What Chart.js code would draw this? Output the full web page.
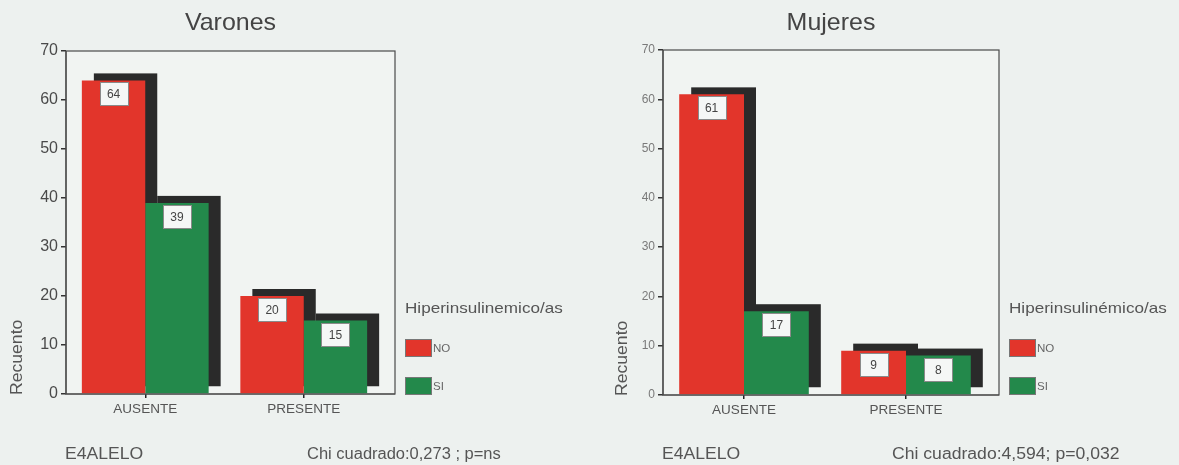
<!DOCTYPE html>
<html>
<head>
<meta charset="utf-8">
<script src="https://cdn.jsdelivr.net/npm/chart.js@4/dist/chart.umd.min.js"></script>
<style>
  html, body { margin: 0; padding: 0; background: #edf1ef; }
  #wrap { position: relative; width: 1179px; height: 465px; overflow: hidden; }
  canvas { position: absolute; top: 0; }
</style>
</head>
<body>
<div id="wrap">
  <canvas id="varones" width="590" height="465" style="left:0;width:590px;height:465px"></canvas>
  <canvas id="mujeres" width="589" height="465" style="left:590px;width:589px;height:465px"></canvas>
</div>
<script>
// Counts by E4 allele status, split by hyperinsulinaemia (NO / SI)
const categories = ['AUSENTE', 'PRESENTE'];
const seriesLabels = ['NO', 'SI'];
const varonesNo = [64, 20];
const varonesSi = [39, 15];
const mujeresNo = [61, 9];
const mujeresSi = [17, 8];
const yTickValues = [0, 10, 20, 30, 40, 50, 60, 70];

const RED = '#e2352b';
const GREEN = '#23894b';
const SHADOW = '#2a2a2a';
const FONT = '"Liberation Sans", Arial, sans-serif';

// draws text slightly widened horizontally, as in the printed original
function wideText(ctx, text, x, y, sx, align) {
  ctx.save();
  ctx.translate(x, y);
  ctx.scale(sx, 1);
  ctx.textAlign = align;
  ctx.fillText(text, 0, 0);
  ctx.restore();
}

// Offset block shadow behind each bar, frame around the plot, value boxes and annotations
const decorPlugin = {
  id: 'decor',
  beforeDatasetsDraw(chart) {
    const o = chart.options.plugins.decor;
    const ctx = chart.ctx;
    const a = chart.chartArea;
    ctx.save();
    // plot frame (extends to the right to hold the shadows)
    ctx.fillStyle = '#f1f4f2';
    ctx.fillRect(a.left, a.top, a.right + o.frameExtra - a.left, a.bottom - a.top);
    ctx.strokeStyle = '#4a4a4a';
    ctx.lineWidth = 1.2;
    ctx.strokeRect(a.left, a.top, a.right + o.frameExtra - a.left, a.bottom - a.top);
    // shadows
    ctx.fillStyle = SHADOW;
    chart.data.datasets.forEach((ds, i) => {
      chart.getDatasetMeta(i).data.forEach(bar => {
        const p = bar.getProps(['x', 'y', 'base', 'width'], true);
        ctx.fillRect(p.x - p.width / 2 + o.dx, p.y + o.dy, p.width, p.base - p.y);
      });
    });
    ctx.restore();
  },
  afterDatasetsDraw(chart) {
    const o = chart.options.plugins.decor;
    const ctx = chart.ctx;
    const a = chart.chartArea;
    ctx.save();
    // value boxes inside the top of each bar
    chart.data.datasets.forEach((ds, i) => {
      chart.getDatasetMeta(i).data.forEach((bar, j) => {
        const p = bar.getProps(['x', 'y'], true);
        const w = 28, h = 23;
        const bx = Math.round(p.x - w / 2) + 0.5, by = Math.round(p.y + 2) + 0.5;
        ctx.fillStyle = '#f5f7f6';
        ctx.fillRect(bx, by, w, h);
        ctx.strokeStyle = '#8a8a8a';
        ctx.lineWidth = 1;
        ctx.strokeRect(bx, by, w, h);
        ctx.fillStyle = '#444';
        ctx.font = '12px ' + FONT;
        ctx.textAlign = 'center';
        ctx.textBaseline = 'middle';
        ctx.fillText(String(ds.data[j]), p.x, by + h / 2 + 1);
      });
    });
    // left and bottom axis lines over the bars' edges
    ctx.strokeStyle = '#4a4a4a';
    ctx.lineWidth = 1.2;
    ctx.beginPath();
    ctx.moveTo(a.left, a.top);
    ctx.lineTo(a.left, a.bottom);
    ctx.lineTo(a.right + o.frameExtra, a.bottom);
    ctx.stroke();

    const frameCx = (a.left + a.right + o.frameExtra) / 2;
    ctx.fillStyle = '#444';
    ctx.textBaseline = 'middle';
    // title
    ctx.font = '24px ' + FONT;
    wideText(ctx, o.title, frameCx, 23, 1.04, 'center');
    // y axis title
    ctx.save();
    ctx.translate(o.yTitleX, a.bottom + 1);
    ctx.rotate(-Math.PI / 2);
    ctx.font = '16px ' + FONT;
    ctx.textBaseline = 'alphabetic';
    ctx.fillStyle = '#555';
    wideText(ctx, 'Recuento', 0, 0, 1.1, 'left');
    ctx.restore();
    // legend
    const lx = a.right + o.frameExtra + o.legendGap;
    ctx.font = '15px ' + FONT;
    ctx.fillStyle = '#555';
    wideText(ctx, o.legendTitle, lx, 309, 1.14, 'left');
    const rows = [348, 386];
    chart.data.datasets.forEach((ds, i) => {
      ctx.fillStyle = ds.backgroundColor;
      ctx.fillRect(lx, rows[i] - 9, 27, 18);
      ctx.strokeStyle = '#777';
      ctx.lineWidth = 1;
      ctx.strokeRect(lx + 0.5, rows[i] - 8.5, 26, 17);
      ctx.fillStyle = '#666';
      ctx.font = '11px ' + FONT;
      wideText(ctx, ds.label, lx + 28, rows[i] + 1, 1.05, 'left');
    });
    // footer annotations
    ctx.font = '16px ' + FONT;
    ctx.fillStyle = '#555';
    wideText(ctx, 'E4ALELO', a.left - 1, 455, 1.1, 'left');
    wideText(ctx, o.stat, o.statX, 455, o.statStretch, 'left');
    ctx.restore();
  }
};

function makeChart(id, noData, siData, g) {
  return new Chart(document.getElementById(id), {
    type: 'bar',
    data: {
      labels: categories,
      datasets: [
        { label: seriesLabels[0], data: noData, backgroundColor: RED },
        { label: seriesLabels[1], data: siData, backgroundColor: GREEN }
      ]
    },
    options: {
      responsive: false,
      animation: false,
      layout: { padding: { left: 0, right: g.padRight, top: g.top, bottom: 465 - g.bottom - 24 } },
      datasets: { bar: { barPercentage: 1.0, categoryPercentage: 0.8, borderWidth: 0 } },
      scales: {
        x: {
          type: 'category',
          offset: true,
          afterFit: s => { s.height = 24; },
          border: { display: false },
          grid: { display: true, offset: false, drawOnChartArea: false, drawTicks: true, tickLength: 4, color: '#222', lineWidth: 1.5 },
          ticks: { font: { family: FONT, size: 13.5 }, color: '#555', padding: 3, maxRotation: 0 }
        },
        y: {
          min: 0,
          max: yTickValues[yTickValues.length - 1],
          afterFit: s => { s.width = g.left; },
          afterBuildTicks: s => { s.ticks = yTickValues.map(v => ({ value: v })); },
          border: { display: false },
          grid: { display: true, drawOnChartArea: false, drawTicks: true, tickLength: 5, color: '#333', lineWidth: 1.5 },
          ticks: { font: { family: FONT, size: g.tickSize }, color: g.tickColor, padding: 3 }
        }
      },
      plugins: {
        legend: { display: false },
        tooltip: { enabled: false },
        decor: {
          dx: 12, dy: -7,
          frameExtra: 12,
          legendGap: 10,
          title: g.title,
          legendTitle: g.legendTitle,
          stat: g.stat,
          statX: g.statX,
          statStretch: g.statStretch,
          yTitleX: g.yTitleX
        }
      }
    },
    plugins: [decorPlugin]
  });
}

makeChart('varones', varonesNo, varonesSi, {
  left: 66, padRight: 590 - 383, top: 51, bottom: 394,
  tickSize: 16, tickColor: '#4a4a4a',
  title: 'Varones', legendTitle: 'Hiperinsulinemico/as',
  stat: 'Chi cuadrado:0,273 ; p=ns', statX: 307, statStretch: 1.03, yTitleX: 22
});
makeChart('mujeres', mujeresNo, mujeresSi, {
  left: 73, padRight: 589 - 397, top: 50, bottom: 395,
  tickSize: 12, tickColor: '#7a7a7a',
  title: 'Mujeres', legendTitle: 'Hiperinsulinémico/as',
  stat: 'Chi cuadrado:4,594; p=0,032', statX: 302, statStretch: 1.1, yTitleX: 37
});
</script>
</body>
</html>
